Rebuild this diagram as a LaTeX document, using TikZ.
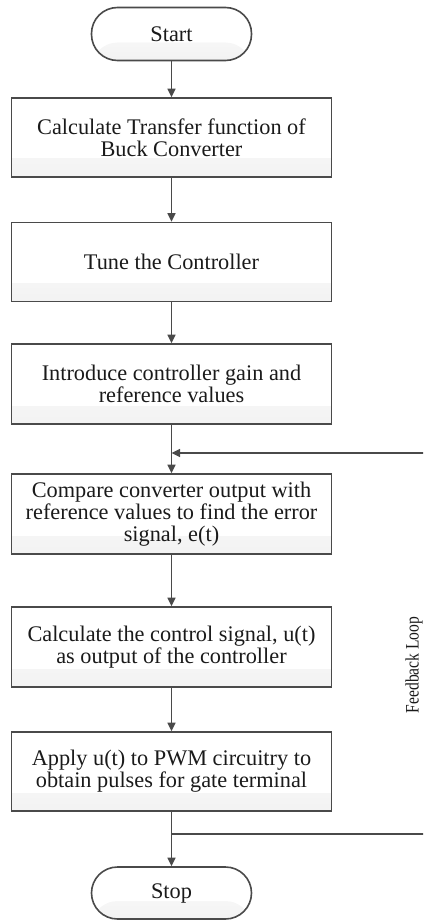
\documentclass[tikz,border=0pt]{standalone}
\usepackage{fontspec}
\setmainfont{Liberation Serif}
\usetikzlibrary{arrows.meta,calc}
\definecolor{linegray}{HTML}{4A4A4A}
\definecolor{textdark}{HTML}{1A1A1A}
\tikzset{
  base/.style={draw=linegray, line width=1.6pt, text=textdark, align=center,
    font=\fontsize{22.3}{22}\selectfont, inner sep=0pt,
    path picture={\shade[top color=white, bottom color=black!5]
      ($(path picture bounding box.south west)+(0,18pt)$) rectangle
      (path picture bounding box.south east);}},
  stepbox/.style={base, rectangle, minimum width=320pt, minimum height=79pt},
  terminal/.style={base, rectangle, rounded corners=26pt, minimum width=160pt, minimum height=53pt},
  flow/.style={draw=linegray, line width=1.6pt, -{Triangle[length=8.5pt,width=8pt]}}
}
\begin{document}
\begin{tikzpicture}[x=1pt,y=-1pt]
  \useasboundingbox (0,0) rectangle (423,920);
  \clip (0,0) rectangle (423,920);

  \node[terminal] (start) at (171.5,34) {Start};
  \node[stepbox] (b1) at (171.5,137.5) {Calculate Transfer function of\\Buck Converter};
  \node[stepbox] (b2) at (171.5,262) {Tune the Controller};
  \node[stepbox, minimum height=80pt] (b3) at (171.5,384) {Introduce controller gain and\\reference values};
  \node[stepbox, minimum height=80pt] (b4) at (171.5,514) {Compare converter output with\\reference values to find the error\\signal, e(t)};
  \node[stepbox, minimum height=80pt] (b5) at (171.5,647) {Calculate the control signal, u(t)\\as output of the controller};
  \node[stepbox] (b6) at (171.5,771.5) {Apply u(t) to PWM circuitry to\\obtain pulses for gate terminal};
  \node[terminal, minimum height=52pt] (stop) at (171.5,893) {Stop};

  \draw[flow] (start) -- (b1);
  \draw[flow] (b1) -- (b2);
  \draw[flow] (b2) -- (b3);
  \draw[flow] (b3) -- (b4);
  \draw[flow] (b4) -- (b5);
  \draw[flow] (b5) -- (b6);
  \draw[flow] (b6) -- (stop);

  % feedback path from the output branch back to the comparison step
  \coordinate (fbout) at (171.5,834);
  \coordinate (fbin) at (171.5,453);
  \coordinate (loopbr) at (432,834);
  \coordinate (looptr) at (432,453);
  \draw[flow] (fbout) -- (loopbr) -- (looptr) -- (fbin);

  \node[text=textdark, rotate=90, inner sep=0pt] (fblabel) at (414,665)
    {\scalebox{0.82}[1]{\fontsize{19}{19}\selectfont Feedback Loop}};
\end{tikzpicture}
\end{document}
